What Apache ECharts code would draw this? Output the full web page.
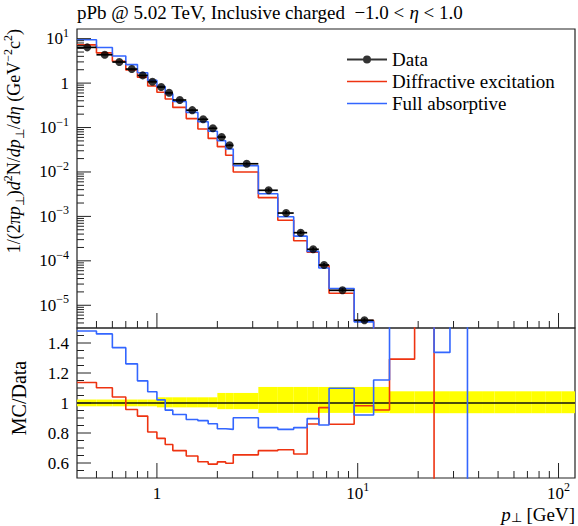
<!DOCTYPE html>
<html>
<head>
<meta charset="utf-8">
<script src="https://cdn.jsdelivr.net/npm/echarts@6/dist/echarts.min.js"></script>
<style>
  html, body { margin: 0; padding: 0; background: #fff; }
  #chart { width: 578px; height: 526px; }
</style>
</head>
<body>
<div id="chart"></div>
<script>
// pT bin edges (GeV)
const binEdges = [0.4, 0.5, 0.6, 0.7, 0.8, 0.9, 1.0, 1.1, 1.2, 1.4, 1.6, 1.8, 2.0, 2.2, 2.4, 3.2, 4.0, 4.8,
  5.6, 6.4, 7.2, 9.6, 12.0, 14.4, 19.2, 24.0, 28.8, 35.2, 41.6, 48.0, 60.8, 73.6, 86.4, 103.6, 120.8]

// data and its relative uncertainties
const dataVals = [6.37, 4.34, 2.98, 2.07, 1.49, 1.07, 0.815, 0.607, 0.416, 0.246, 0.153, 0.096, 0.0611, 0.0398,
  0.0153, 0.00387, 0.00119, 0.00043, 0.000182, 8.06e-5, 2.17e-5, 4.6e-6, 1.3e-6, 3.9e-7, 9.5e-8, 3.2e-8,
  1.2e-8, 4.6e-9, 2.1e-9, 7.8e-10, 2.6e-10, 1.0e-10, 4.0e-11, 1.5e-11]
const errUp = [0.023, 0.023, 0.023, 0.023, 0.023, 0.023, 0.038, 0.038, 0.038, 0.038, 0.038, 0.038,
  0.067, 0.067, 0.067, 0.107, 0.107, 0.107, 0.107, 0.107, 0.107, 0.107, 0.107,
  0.078, 0.078, 0.078, 0.078, 0.078, 0.078, 0.078, 0.078, 0.078, 0.078, 0.078]
const errDown = [0.022, 0.022, 0.022, 0.022, 0.022, 0.022, 0.029, 0.029, 0.029, 0.029, 0.029, 0.029,
  0.041, 0.041, 0.041, 0.066, 0.066, 0.066, 0.066, 0.066, 0.066, 0.066, 0.066,
  0.068, 0.068, 0.068, 0.068, 0.068, 0.068, 0.068, 0.068, 0.068, 0.068, 0.068]

// MC predictions
const diffractive = [7.24, 4.78, 3.10, 1.98, 1.36, 0.863, 0.623, 0.439, 0.284, 0.159, 0.0930, 0.0569, 0.0371,
  0.0238, 0.01001, 0.00264, 0.000819, 0.000284, 0.0001565, 7.81e-5, 1.862e-5, 4.517e-6, 1.239e-6, 5.04e-7,
  1.8e-7, 0, 0, 0, 0, 0, 0, 0, 0, 0]
const fullAbsorptive = [9.43, 6.34, 4.08, 2.61, 1.71, 1.15, 0.832, 0.578, 0.384, 0.219, 0.135, 0.0827, 0.0506,
  0.0328, 0.01379, 0.003235, 0.000981, 0.0003595, 0.0001631, 6.875e-5, 2.383e-5, 4.232e-6, 1.499e-6, 9.4e-7,
  2.0e-7, 4.28e-8, 2.3e-8, 0, 0, 0, 0, 0, 0, 0]

// axis ranges and tick labels
const xRange = [0.4, 120.8]
const yTopRange = [3.08e-6, 16.5]
const yRatioRange = [0.5, 1.5]
const xMinorTicks = [0.5, 0.6, 0.7, 0.8, 0.9, 2, 3, 4, 5, 6, 7, 8, 9, 20, 30, 40, 50, 60, 70, 80, 90]
const xMajorTicks = [1, 10, 100]
const xLabelExps = [null, '1', '2']
const yTopMajorTicks = [10, 1, 0.1, 0.01, 0.001, 1e-4, 1e-5]
const yTopLabelExps = ['1', null, '−1', '−2', '−3', '−4', '−5']
const yRatioMajorTicks = [0.6, 0.8, 1.0, 1.2, 1.4]
const yRatioLabels = ['0.6', '0.8', '1', '1.2', '1.4']

const FONT = 'Liberation Serif'
const RED = '#ee3311'
const BLUE = '#3366ff'
const LINE_ICON = 'path://M0,3.7 L40,3.7 L40,5.3 L0,5.3 Z'

const mids = dataVals.map((v, i) => (binEdges[i] + binEdges[i + 1]) / 2)
const ratioDiff = diffractive.map((v, i) => v / dataVals[i])
const ratioAbs = fullAbsorptive.map((v, i) => v / dataVals[i])

function stepData(vals, floor) {
  const pts = vals.map((v, i) => [binEdges[i], v > 0 ? v : floor])
  pts.push([binEdges[vals.length], pts[pts.length - 1][1]])
  return pts
}

function powLabel(exp) {
  return exp == null ? '{b|1}' : '{b|10}{s|' + exp + '}'
}
const labelRich = {
  b: { fontFamily: FONT, fontSize: 17, lineHeight: 24, fill: '#000', color: '#000' },
  s: { fontFamily: FONT, fontSize: 12, lineHeight: 12, verticalAlign: 'top', fill: '#000', color: '#000' }
}

// y minor ticks for the log panel
const yTopMinorTicks = []
for (let e = -6; e <= 1; e++) {
  for (let k = 2; k <= 9; k++) {
    const v = k * Math.pow(10, e)
    if (v > yTopRange[0] && v < yTopRange[1]) yTopMinorTicks.push(v)
  }
}
const yRatioMinorTicks = []
for (let k = 11; k <= 29; k++) if (k % 4 !== 0) yRatioMinorTicks.push(k * 0.05)

function tickLine(x1, y1, x2, y2) {
  return { type: 'line', shape: { x1, y1, x2, y2 }, style: { stroke: '#222', lineWidth: 1 } }
}
function tickText(x, y, text, align) {
  return {
    type: 'text', x, y,
    style: { text, rich: labelRich, align, verticalAlign: 'middle', fontFamily: FONT, fontSize: 17, fill: '#000' }
  }
}

function xTickSeries(axis, withLabels) {
  const data = xMinorTicks.map(v => [v, 1, 0, -1]).concat(xMajorTicks.map((v, i) => [v, 1, 1, i]))
  return {
    type: 'custom', xAxisIndex: axis, yAxisIndex: axis, silent: true, z: 10, data,
    dimensions: ['x', 'y', 'major', 'idx'],
    renderItem(params, api) {
      const cs = params.coordSys
      const x = api.coord([api.value(0), 1])[0]
      const major = api.value(2) === 1
      const yb = cs.y + cs.height
      const kids = [tickLine(x, yb, x, yb - (major ? 15 : 7))]
      if (withLabels && major) kids.push(tickText(x, yb + 15, powLabel(xLabelExps[api.value(3)]), 'center'))
      return { type: 'group', children: kids }
    }
  }
}

const option = {
  animation: false,
  backgroundColor: '#fff',
  grid: [
    { left: 77, top: 29, width: 498, height: 299, show: true, borderColor: '#222', borderWidth: 1.2 },
    { left: 77, top: 328, width: 498, height: 150, show: true, borderColor: '#222', borderWidth: 1.2 }
  ],
  xAxis: [0, 1].map(i => ({
    type: 'log', logBase: 10, gridIndex: i, min: xRange[0], max: xRange[1],
    axisLine: { show: false }, axisTick: { show: false }, axisLabel: { show: false }, splitLine: { show: false }
  })),
  yAxis: [
    { type: 'log', logBase: 10, gridIndex: 0, min: yTopRange[0], max: yTopRange[1],
      axisLine: { show: false }, axisTick: { show: false }, axisLabel: { show: false }, splitLine: { show: false } },
    { type: 'value', gridIndex: 1, min: yRatioRange[0], max: yRatioRange[1],
      axisLine: { show: false }, axisTick: { show: false }, axisLabel: { show: false }, splitLine: { show: false } }
  ],
  legend: {
    orient: 'vertical', left: 342, top: 45, itemWidth: 40, itemHeight: 9, itemGap: 3,
    selectedMode: false,
    textStyle: { fontFamily: FONT, fontSize: 19, color: '#000' },
    data: [
      { name: 'Data', icon: 'path://M0,3.6 L40,3.6 L40,5.4 L0,5.4 Z M16,4.5 A4,4 0 1 1 24,4.5 A4,4 0 1 1 16,4.5 Z',
        itemStyle: { color: '#000' } },
      { name: 'Diffractive excitation', icon: LINE_ICON, itemStyle: { color: RED } },
      { name: 'Full absorptive', icon: LINE_ICON, itemStyle: { color: BLUE } }
    ]
  },
  graphic: [
    { type: 'text', x: 77, y: 12,
      style: { text: '{n|pPb @ 5.02 TeV, Inclusive charged  −1.0 < }{i|η}{n| < 1.0}', verticalAlign: 'middle',
        rich: { n: { fontFamily: FONT, fontSize: 19, color: '#000' },
                i: { fontFamily: FONT, fontSize: 19, fontStyle: 'italic', color: '#000' } } } },
    { type: 'text', x: 14, y: 29, rotation: Math.PI / 2,
      style: { align: 'right', verticalAlign: 'middle',
        text: '{n|1/(2π}{i|p}{d|⊥}{n|)}{i|d}{u|2}{n|N/}{i|dp}{d|⊥}{n|/}{i|dη}{n| (GeV}{u|−2}{n|c}{u|2}{n|)}',
        rich: {
          n: { fontFamily: FONT, fontSize: 18, lineHeight: 24, color: '#000' },
          i: { fontFamily: FONT, fontSize: 18, lineHeight: 24, fontStyle: 'italic', color: '#000' },
          u: { fontFamily: FONT, fontSize: 12, lineHeight: 12, verticalAlign: 'top', color: '#000' },
          d: { fontFamily: FONT, fontSize: 12, lineHeight: 12, verticalAlign: 'bottom', color: '#000' }
        } } },
    { type: 'text', x: 19, y: 398, rotation: Math.PI / 2,
      style: { text: 'MC/Data', align: 'center', verticalAlign: 'middle', fontFamily: FONT, fontSize: 20, fill: '#000' } },
    { type: 'text', x: 575, y: 514,
      style: { align: 'right', verticalAlign: 'middle', text: '{i|p}{d|⊥}{n| [GeV]}',
        rich: {
          n: { fontFamily: FONT, fontSize: 19, lineHeight: 20, color: '#000' },
          i: { fontFamily: FONT, fontSize: 19, lineHeight: 20, fontStyle: 'italic', color: '#000' },
          d: { fontFamily: FONT, fontSize: 13, lineHeight: 13, verticalAlign: 'bottom', color: '#000' }
        } } }
  ],
  series: [
    // ratio band
    {
      type: 'custom', xAxisIndex: 1, yAxisIndex: 1, silent: true, clip: true, z: 1,
      data: dataVals.map((v, i) => [binEdges[i], binEdges[i + 1], 1 + errUp[i], 1 - errDown[i]]),
      renderItem(params, api) {
        const p1 = api.coord([api.value(0), api.value(2)])
        const p2 = api.coord([api.value(1), api.value(3)])
        return { type: 'rect', shape: { x: p1[0], y: p1[1], width: p2[0] - p1[0], height: p2[1] - p1[1] },
          style: { fill: '#ffff00' } }
      }
    },
    {
      type: 'line', xAxisIndex: 1, yAxisIndex: 1, silent: true, symbol: 'none', z: 2,
      data: [[xRange[0], 1], [xRange[1], 1]], lineStyle: { color: '#111', width: 1.3 }
    },
    {
      name: 'Diffractive excitation', type: 'line', xAxisIndex: 1, yAxisIndex: 1, step: 'end', symbol: 'none',
      z: 3, data: stepData(ratioDiff, 0), lineStyle: { color: RED, width: 1.6 }, itemStyle: { color: RED }
    },
    {
      name: 'Full absorptive', type: 'line', xAxisIndex: 1, yAxisIndex: 1, step: 'end', symbol: 'none',
      z: 3, data: stepData(ratioAbs, 0), lineStyle: { color: BLUE, width: 1.6 }, itemStyle: { color: BLUE }
    },
    // main panel
    {
      name: 'Diffractive excitation', type: 'line', xAxisIndex: 0, yAxisIndex: 0, step: 'end', symbol: 'none',
      z: 3, data: stepData(diffractive, 1e-12), lineStyle: { color: RED, width: 1.6 }, itemStyle: { color: RED }
    },
    {
      name: 'Full absorptive', type: 'line', xAxisIndex: 0, yAxisIndex: 0, step: 'end', symbol: 'none',
      z: 3, data: stepData(fullAbsorptive, 1e-12), lineStyle: { color: BLUE, width: 1.6 }, itemStyle: { color: BLUE }
    },
    {
      type: 'custom', xAxisIndex: 0, yAxisIndex: 0, silent: true, clip: true, z: 4,
      data: dataVals.map((v, i) => [binEdges[i], binEdges[i + 1], mids[i], v, v * (1 + errUp[i]), v * (1 - errDown[i])])
        .filter(d => d[3] > yTopRange[0]),
      renderItem(params, api) {
        const a = api.coord([api.value(0), api.value(3)])
        const b = api.coord([api.value(1), api.value(3)])
        const t = api.coord([api.value(2), api.value(4)])
        const d = api.coord([api.value(2), api.value(5)])
        const st = { stroke: '#000', lineWidth: 1.7 }
        return { type: 'group', children: [
          { type: 'line', shape: { x1: a[0], y1: a[1], x2: b[0], y2: b[1] }, style: st },
          { type: 'line', shape: { x1: t[0], y1: t[1], x2: d[0], y2: d[1] }, style: st }
        ] }
      }
    },
    {
      name: 'Data', type: 'scatter', xAxisIndex: 0, yAxisIndex: 0, symbol: 'circle', symbolSize: 8, z: 5,
      data: dataVals.map((v, i) => [mids[i], v]).filter(d => d[1] > yTopRange[0]),
      itemStyle: { color: '#000' }
    },
    // ticks and tick labels
    xTickSeries(0, false),
    xTickSeries(1, true),
    {
      type: 'custom', xAxisIndex: 0, yAxisIndex: 0, silent: true, z: 10,
      dimensions: ['x', 'y', 'major', 'idx'],
      data: yTopMinorTicks.map(v => [1, v, 0, -1]).concat(yTopMajorTicks.map((v, i) => [1, v, 1, i])),
      renderItem(params, api) {
        const cs = params.coordSys
        const y = api.coord([1, api.value(1)])[1]
        const major = api.value(2) === 1
        const kids = [tickLine(cs.x, y, cs.x + (major ? 14 : 7), y)]
        if (major) kids.push(tickText(cs.x - 8, y, powLabel(yTopLabelExps[api.value(3)]), 'right'))
        return { type: 'group', children: kids }
      }
    },
    {
      type: 'custom', xAxisIndex: 1, yAxisIndex: 1, silent: true, z: 10,
      dimensions: ['x', 'y', 'major', 'idx'],
      data: yRatioMinorTicks.map(v => [1, v, 0, -1]).concat(yRatioMajorTicks.map((v, i) => [1, v, 1, i])),
      renderItem(params, api) {
        const cs = params.coordSys
        const y = api.coord([1, api.value(1)])[1]
        const major = api.value(2) === 1
        const kids = [tickLine(cs.x, y, cs.x + (major ? 14 : 7), y)]
        if (major) kids.push(tickText(cs.x - 8, y, '{b|' + yRatioLabels[api.value(3)] + '}', 'right'))
        return { type: 'group', children: kids }
      }
    }
  ]
}

const chart = echarts.init(document.getElementById('chart'), null, { renderer: 'svg' })
chart.setOption(option)
</script>
</body>
</html>
